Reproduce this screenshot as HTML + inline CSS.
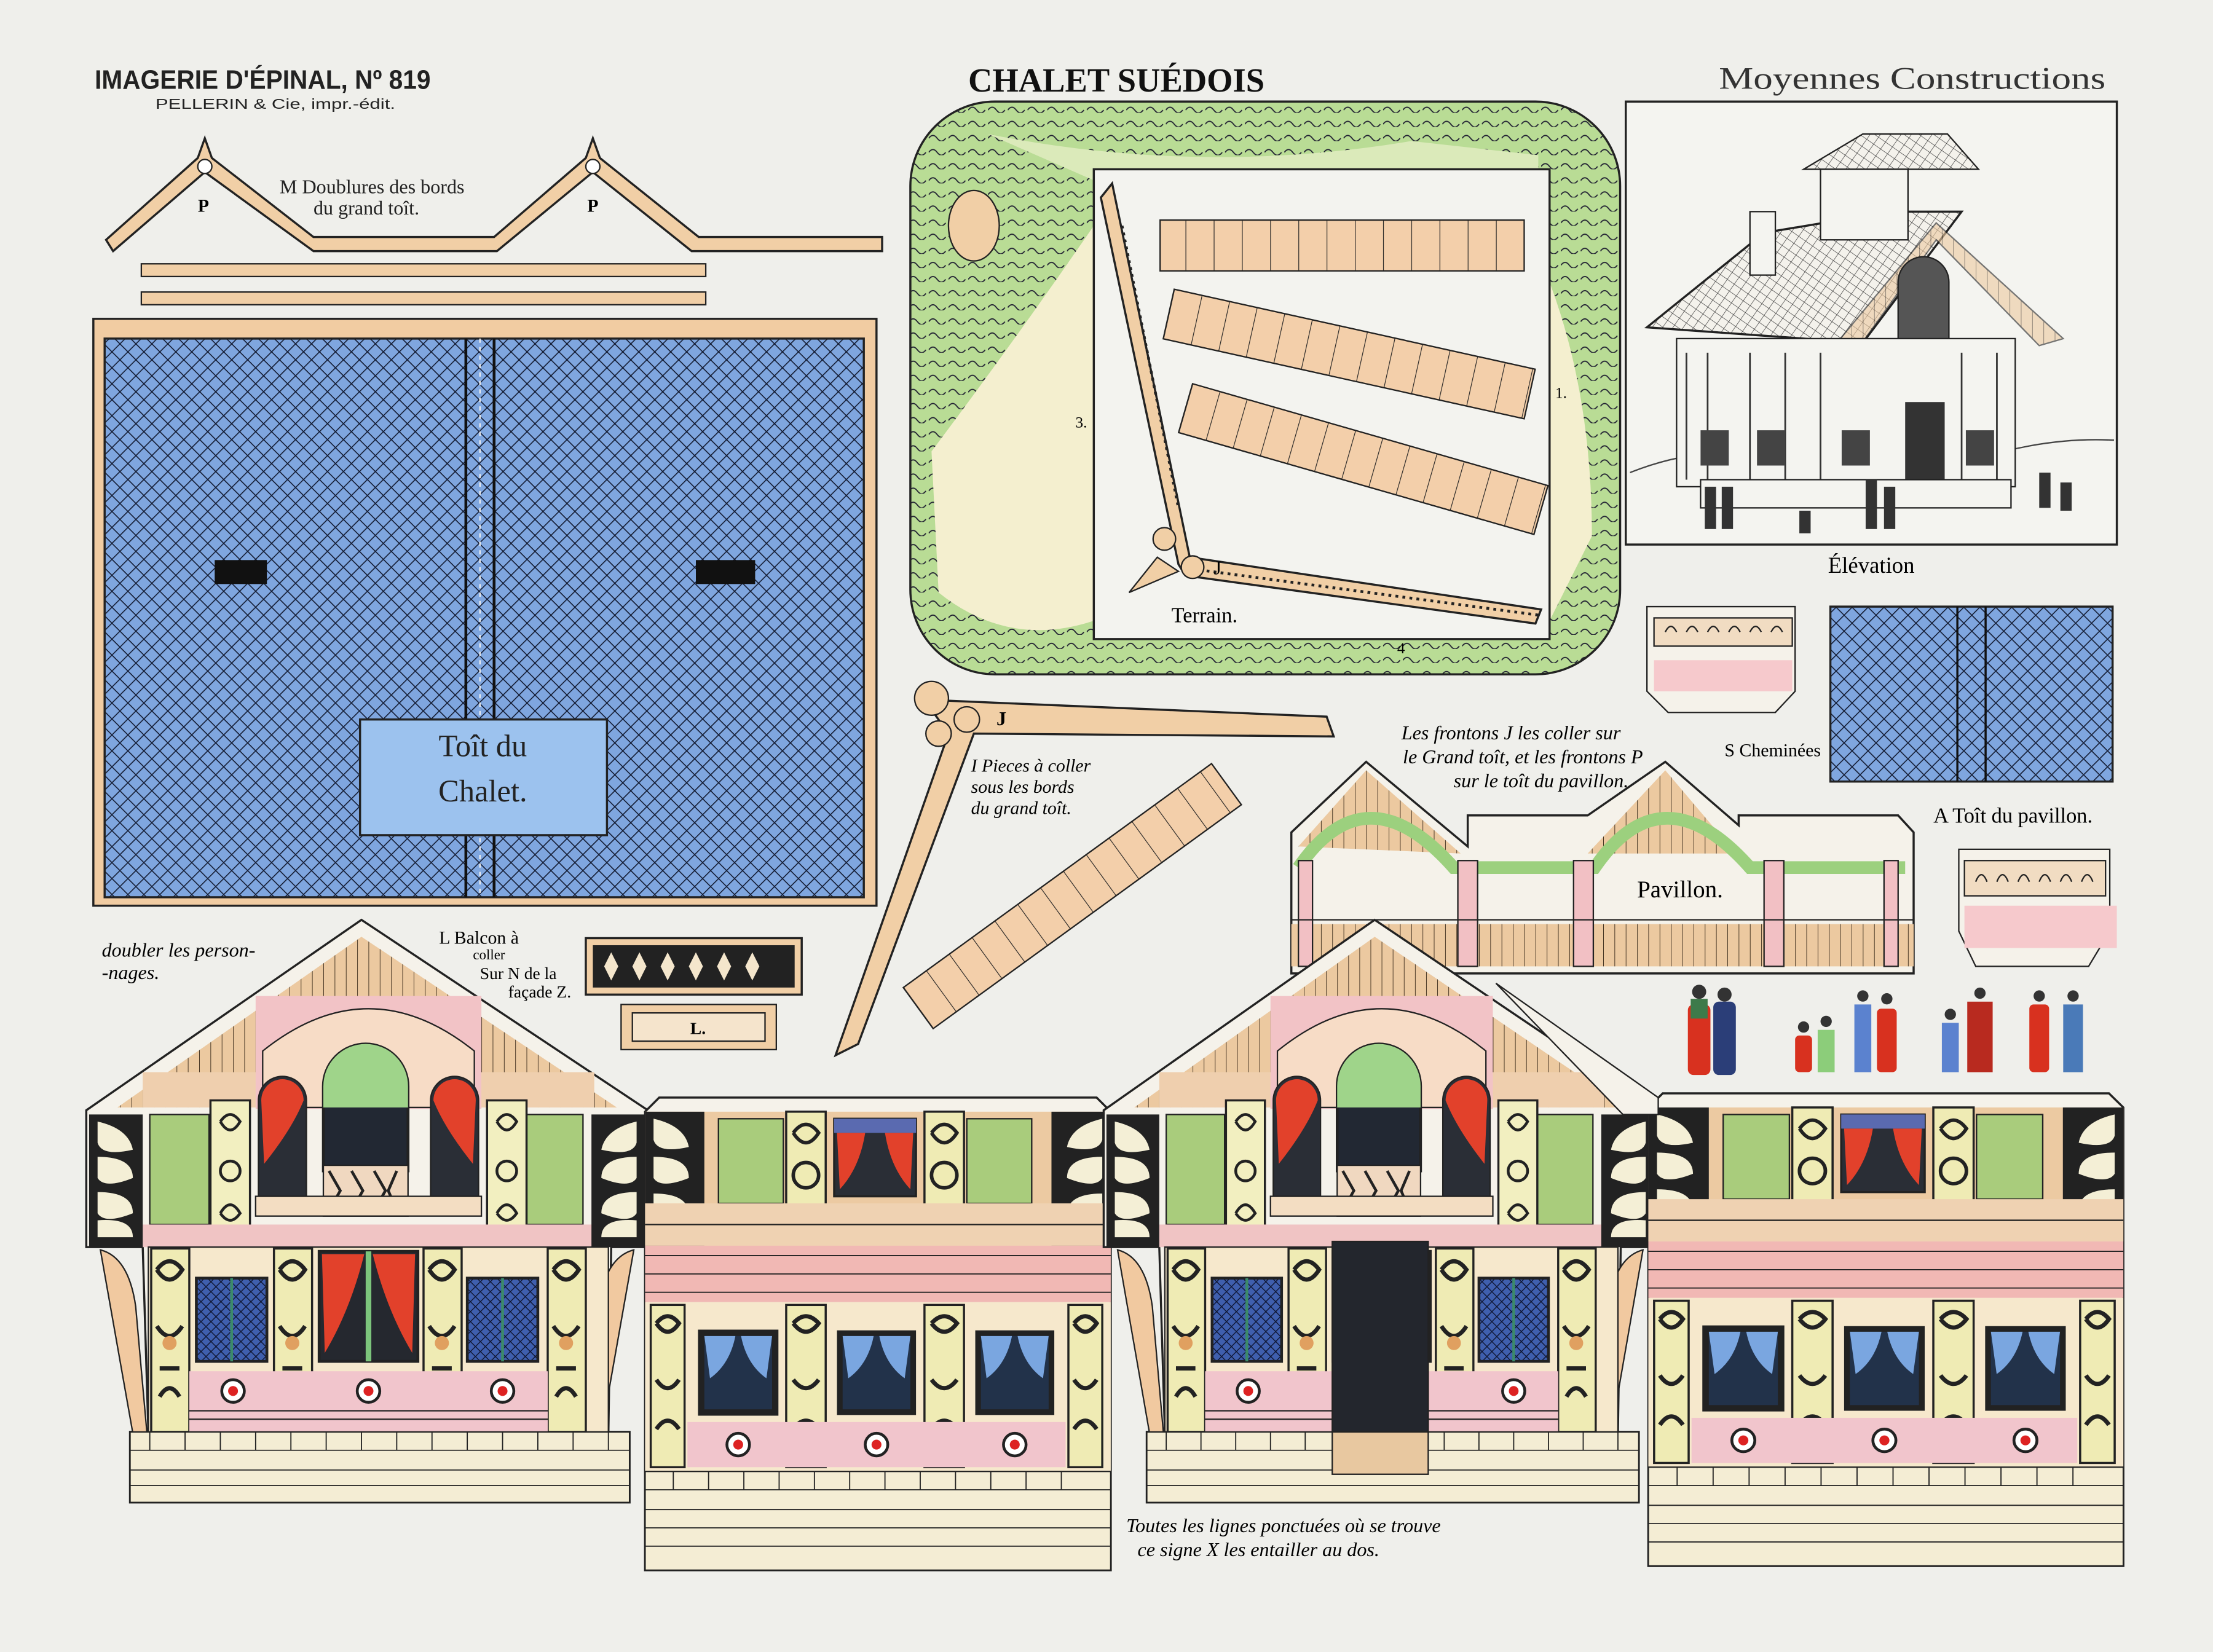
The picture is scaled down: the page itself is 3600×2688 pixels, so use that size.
<!DOCTYPE html>
<html><head><meta charset="utf-8"><style>
html,body{margin:0;padding:0;background:#efefeb;}
svg{display:block;}
</style></head><body>
<svg width="3600" height="2688" viewBox="0 0 1568 1171" xmlns="http://www.w3.org/2000/svg">
<defs>
<pattern id="hatch" width="8" height="8" patternUnits="userSpaceOnUse" patternTransform="rotate(45)">
<rect width="8" height="8" fill="#7fa6df"/>
<line x1="0" y1="0" x2="0" y2="8" stroke="#141c33" stroke-width="1.4"/>
<line x1="0" y1="0" x2="8" y2="0" stroke="#141c33" stroke-width="1.4"/>
</pattern>
<pattern id="vstripe" width="20" height="40" patternUnits="userSpaceOnUse">
<rect width="20" height="40" fill="#f3cfaa"/>
<line x1="0" y1="0" x2="0" y2="40" stroke="#222" stroke-width="1"/>
</pattern>
<pattern id="wood" width="8" height="20" patternUnits="userSpaceOnUse">
<rect width="8" height="20" fill="#ecc9a0"/>
<line x1="0" y1="0" x2="0" y2="20" stroke="#3a2a1a" stroke-width="0.8"/>
</pattern>
<pattern id="roofel" width="6" height="6" patternUnits="userSpaceOnUse" patternTransform="rotate(35)">
<rect width="6" height="6" fill="#f4f2ec"/>
<line x1="0" y1="0" x2="0" y2="6" stroke="#333" stroke-width="0.6"/>
<line x1="0" y1="0" x2="6" y2="0" stroke="#333" stroke-width="0.6"/>
</pattern>
<pattern id="grass" width="14" height="10" patternUnits="userSpaceOnUse">
<rect width="14" height="10" fill="#b9dc95"/>
<path d="M0 8 q3-4 6 0 t6 0" stroke="#223" fill="none" stroke-width="0.8"/>
</pattern>
<pattern id="blwin" width="5" height="5" patternUnits="userSpaceOnUse" patternTransform="rotate(45)">
<rect width="5" height="5" fill="#3f5fae"/>
<line x1="0" y1="0" x2="0" y2="5" stroke="#0e1430" stroke-width="1.2"/>
<line x1="0" y1="0" x2="5" y2="0" stroke="#0e1430" stroke-width="1.2"/>
</pattern>

<g id="gable">
<polygon points="0,137 195,2 398,137 398,234 372,234 370,365 385,365 385,415 31,415 31,365 44,365 40,234 0,234" fill="#f5f2ea" stroke="#222" stroke-width="1.5"/>
<polygon points="22,135 195,14 376,135" fill="url(#wood)"/>
<rect x="40" y="110" width="320" height="25" fill="#efcfae"/>
<rect x="120" y="56" width="160" height="80" fill="#f2c3c6"/>
<path d="M125 135 v-40 q75-60 150 0 v40z" fill="#f7dcc6" stroke="#222"/>
<path d="M168 180 v-60 a30 30 0 0 1 60 0 v60z" fill="#222833" stroke="#222" stroke-width="2"/>
<path d="M168 120 a30 30 0 0 1 60 0 v15 h-60z" fill="#9fd48a"/>
<rect x="168" y="176" width="60" height="36" fill="#f0d8c0" stroke="#222"/>
<path d="M172 180 l8 14 -8 14 M188 180 l8 14 -8 14 M204 180 l8 14 -8 14 M220 180 l-6 14 6 14" stroke="#222" fill="none" stroke-width="2"/>
<path d="M122 200 v-70 a17 17 0 0 1 34 0 v70z" fill="#2a2e36" stroke="#222"/>
<path d="M124 130 a15 15 0 0 1 30 0 q-8 20 -28 45z" fill="#e2412b"/>
<path d="M244 200 v-70 a17 17 0 0 1 34 0 v70z" fill="#2a2e36" stroke="#222"/>
<path d="M276 130 a15 15 0 0 0 -30 0 q8 20 28 45z" fill="#e2412b"/>
<rect x="120" y="198" width="160" height="14" fill="#f3ddc2" stroke="#222"/>
<rect x="45" y="140" width="42" height="78" fill="#a9cc7c" stroke="#222"/>
<rect x="310" y="140" width="42" height="78" fill="#a9cc7c" stroke="#222"/>
<rect x="88" y="130" width="28" height="105" fill="#f2efc0" stroke="#222" stroke-width="1.5"/>
<rect x="284" y="130" width="28" height="105" fill="#f2efc0" stroke="#222" stroke-width="1.5"/>
<path d="M95 145 q7-10 14 0 q-7 12 -14 0 M95 180 a7 7 0 1 0 14 0 a7 7 0 1 0 -14 0 M95 210 q7-12 14 0 q-7 10 -14 0 M291 145 q7-10 14 0 q-7 12 -14 0 M291 180 a7 7 0 1 0 14 0 a7 7 0 1 0 -14 0 M291 210 q7-12 14 0 q-7 10 -14 0" stroke="#222" fill="none" stroke-width="2"/>
<rect x="40" y="218" width="320" height="16" fill="#f0c4c4"/>
<path d="M2 140 h38 v94 h-38z M358 140 h38 v94 h-38z" fill="#222"/>
<path d="M8 145 q22 5 25 20 q-22 5 -25 -5z M8 170 q25 0 25 15 q-20 8 -25 0z M8 195 q25 0 25 15 q-20 8 -25 0z M8 215 q25 -2 25 12 h-25z M390 145 q-22 5 -25 20 q22 5 25 -5z M390 170 q-25 0 -25 15 q20 8 25 0z M390 195 q-25 0 -25 15 q20 8 25 0z M390 215 q-25 -2 -25 12 h25z" fill="#f4efd6"/>
<path d="M10 236 q20 5 25 40 l8 90 h-10z M388 236 q-20 5 -25 40 l-8 90 h10z" fill="#f1c9a0" stroke="#222"/>
<rect x="44" y="234" width="326" height="131" fill="#f6e8cc" stroke="#222"/>
<rect x="46" y="235" width="27" height="130" fill="#efebb4" stroke="#222" stroke-width="1.5"/>
<rect x="133" y="235" width="27" height="130" fill="#efebb4" stroke="#222" stroke-width="1.5"/>
<rect x="239" y="235" width="27" height="130" fill="#efebb4" stroke="#222" stroke-width="1.5"/>
<rect x="327" y="235" width="27" height="130" fill="#efebb4" stroke="#222" stroke-width="1.5"/>
<path d="M50 250 q9-12 18 0 q-9 14-18 0 M50 290 q9 14 18 0 M52 320 h14 M52 340 q7-12 14 0 M137 250 q9-12 18 0 q-9 14-18 0 M137 290 q9 14 18 0 M139 320 h14 M139 340 q7-12 14 0 M243 250 q9-12 18 0 q-9 14-18 0 M243 290 q9 14 18 0 M245 320 h14 M245 340 q7-12 14 0 M331 250 q9-12 18 0 q-9 14-18 0 M331 290 q9 14 18 0 M333 320 h14 M333 340 q7-12 14 0" stroke="#222" fill="none" stroke-width="3"/>
<circle cx="59" cy="302" r="5" fill="#e0a060"/><circle cx="146" cy="302" r="5" fill="#e0a060"/><circle cx="252" cy="302" r="5" fill="#e0a060"/><circle cx="340" cy="302" r="5" fill="#e0a060"/>
<rect x="78" y="256" width="50" height="59" fill="url(#blwin)" stroke="#222" stroke-width="2"/>
<rect x="270" y="256" width="50" height="59" fill="url(#blwin)" stroke="#222" stroke-width="2"/>
<line x1="103" y1="256" x2="103" y2="315" stroke="#3c8a6a" stroke-width="2"/><line x1="295" y1="256" x2="295" y2="315" stroke="#3c8a6a" stroke-width="2"/>
<rect x="165" y="237" width="70" height="78" fill="#25282f" stroke="#222" stroke-width="2"/>
<line x1="200" y1="237" x2="200" y2="315" stroke="#7cc47c" stroke-width="4"/>
<path d="M167 239 h30 q-10 40 -28 70z M233 239 h-30 q10 40 28 70z" fill="#e2412b"/>
<rect x="73" y="322" width="254" height="43" fill="#f1c5cc"/>
<line x1="73" y1="350" x2="327" y2="350" stroke="#222"/><line x1="73" y1="356" x2="327" y2="356" stroke="#222"/>
<circle cx="104" cy="336" r="8" fill="#fff" stroke="#222" stroke-width="2"/><circle cx="104" cy="336" r="3.5" fill="#d22"/>
<circle cx="200" cy="336" r="8" fill="#fff" stroke="#222" stroke-width="2"/><circle cx="200" cy="336" r="3.5" fill="#d22"/>
<circle cx="295" cy="336" r="8" fill="#fff" stroke="#222" stroke-width="2"/><circle cx="295" cy="336" r="3.5" fill="#d22"/>
<rect x="31" y="365" width="354" height="50" fill="#f4edd4" stroke="#222"/>
<path d="M31 378 h354 M31 392 h354 M31 403 h354" stroke="#222" stroke-width="0.8"/>
<path d="M45 365 v13 M70 365 v13 M95 365 v13 M120 365 v13 M145 365 v13 M170 365 v13 M195 365 v13 M220 365 v13 M245 365 v13 M270 365 v13 M295 365 v13 M320 365 v13 M345 365 v13 M370 365 v13" stroke="#222" stroke-width="0.8"/>
</g>

<g id="side">
<polygon points="0,10 10,0 320,0 330,10 330,335 0,335" fill="#f5f2ea" stroke="#222" stroke-width="1.5"/>
<rect x="0" y="10" width="330" height="95" fill="#eccaa2"/>
<path d="M0 10 h42 v95 h-42z M288 10 h42 v95 h-42z" fill="#222"/>
<path d="M6 15 q22 5 25 20 q-22 5 -25 -5z M6 42 q25 0 25 15 q-20 8 -25 0z M6 68 q25 0 25 15 q-20 8 -25 0z M324 15 q-22 5 -25 20 q22 5 25 -5z M324 42 q-25 0 -25 15 q20 8 25 0z M324 68 q-25 0 -25 15 q20 8 25 0z" fill="#f4efd6"/>
<rect x="52" y="15" width="46" height="60" fill="#a9cc7c" stroke="#222"/>
<rect x="228" y="15" width="46" height="60" fill="#a9cc7c" stroke="#222"/>
<rect x="100" y="10" width="28" height="80" fill="#efebb4" stroke="#222" stroke-width="1.5"/>
<rect x="198" y="10" width="28" height="80" fill="#efebb4" stroke="#222" stroke-width="1.5"/>
<path d="M105 25 q9-12 18 0 q-9 14-18 0 M105 55 a9 9 0 1 0 18 0 a9 9 0 1 0 -18 0 M203 25 q9-12 18 0 q-9 14-18 0 M203 55 a9 9 0 1 0 18 0 a9 9 0 1 0 -18 0" stroke="#222" fill="none" stroke-width="2.5"/>
<rect x="134" y="15" width="58" height="55" fill="#2a2e36" stroke="#222" stroke-width="1.5"/>
<rect x="134" y="15" width="58" height="10" fill="#5a6ab0"/>
<path d="M136 25 h20 q-4 25 -18 40z M190 25 h-20 q4 25 18 40z" fill="#e2412b"/>
<rect x="0" y="75" width="330" height="30" fill="#efd2b2"/>
<line x1="0" y1="90" x2="330" y2="90" stroke="#222"/>
<rect x="0" y="105" width="330" height="40" fill="#f1b8b4"/>
<path d="M0 112 h330 M0 125 h330 M0 138 h330" stroke="#222" stroke-width="0.8"/>
<rect x="0" y="145" width="330" height="120" fill="#f6e8cc"/>
<rect x="4" y="147" width="24" height="115" fill="#efebb4" stroke="#222" stroke-width="1.5"/>
<rect x="100" y="147" width="28" height="115" fill="#efebb4" stroke="#222" stroke-width="1.5"/>
<rect x="198" y="147" width="28" height="115" fill="#efebb4" stroke="#222" stroke-width="1.5"/>
<rect x="300" y="147" width="24" height="115" fill="#efebb4" stroke="#222" stroke-width="1.5"/>
<path d="M8 160 q8-10 16 0 q-8 12 -16 0 M8 200 q8 12 16 0 M8 235 q8-12 16 0 M105 160 q9-10 18 0 q-9 12 -18 0 M105 200 q9 12 18 0 M105 235 q9-12 18 0 M203 160 q9-10 18 0 q-9 12 -18 0 M203 200 q9 12 18 0 M203 235 q9-12 18 0 M304 160 q8-10 16 0 q-8 12 -16 0 M304 200 q8 12 16 0 M304 235 q8-12 16 0" stroke="#222" fill="none" stroke-width="3"/>
<rect x="38" y="165" width="56" height="60" fill="#222" stroke="#222"/>
<rect x="42" y="169" width="48" height="52" fill="#22324a"/>
<path d="M42 169 h22 q-4 20 -18 30 z M90 169 h-22 q4 20 18 30z" fill="#7aa6e0"/>
<rect x="136" y="165" width="56" height="60" fill="#222"/>
<rect x="140" y="169" width="48" height="52" fill="#22324a"/>
<path d="M140 169 h22 q-4 20 -18 30 z M188 169 h-22 q4 20 18 30z" fill="#7aa6e0"/>
<rect x="234" y="165" width="56" height="60" fill="#222"/>
<rect x="238" y="169" width="48" height="52" fill="#22324a"/>
<path d="M238 169 h22 q-4 20 -18 30 z M286 169 h-22 q4 20 18 30z" fill="#7aa6e0"/>
<rect x="30" y="230" width="268" height="32" fill="#f1c5cc"/>
<circle cx="66" cy="246" r="8" fill="#fff" stroke="#222" stroke-width="2"/><circle cx="66" cy="246" r="3.5" fill="#d22"/>
<circle cx="164" cy="246" r="8" fill="#fff" stroke="#222" stroke-width="2"/><circle cx="164" cy="246" r="3.5" fill="#d22"/>
<circle cx="262" cy="246" r="8" fill="#fff" stroke="#222" stroke-width="2"/><circle cx="262" cy="246" r="3.5" fill="#d22"/>
<rect x="0" y="265" width="330" height="70" fill="#f4edd4" stroke="#222"/>
<path d="M0 278 h330 M0 292 h330 M0 305 h330 M0 318 h330" stroke="#222" stroke-width="0.8"/>
<path d="M20 265 v13 M45 265 v13 M70 265 v13 M95 265 v13 M120 265 v13 M145 265 v13 M170 265 v13 M195 265 v13 M220 265 v13 M245 265 v13 M270 265 v13 M295 265 v13" stroke="#222" stroke-width="0.8"/>
</g>
</defs>

<rect width="1568" height="1171" fill="#efefeb"/>

<text x="67" y="63" font-family="Liberation Sans, sans-serif" font-size="19" font-weight="bold" fill="#222" textLength="238" lengthAdjust="spacingAndGlyphs">IMAGERIE D'ÉPINAL, Nº 819</text>
<text x="110" y="77" font-family="Liberation Sans, sans-serif" font-size="10" fill="#222" textLength="170" lengthAdjust="spacingAndGlyphs">PELLERIN &amp; Cie, impr.-édit.</text>
<text x="686" y="65" font-family="Liberation Serif, serif" font-size="24" font-weight="bold" fill="#111" textLength="210" lengthAdjust="spacingAndGlyphs">CHALET SUÉDOIS</text>
<text x="1218" y="63" font-family="Liberation Serif, serif" font-size="22" fill="#333" textLength="274" lengthAdjust="spacingAndGlyphs">Moyennes Constructions</text>

<g fill="#f1cfa6" stroke="#222" stroke-width="1.5">
<polygon points="75,170 140,112 145,98 150,112 222,168 350,168 415,112 420,98 425,112 495,168 625,168 625,178 490,178 420,122 352,178 222,178 145,122 80,178"/>
</g>
<circle cx="145" cy="118" r="5" fill="#fff" stroke="#222"/><circle cx="420" cy="118" r="5" fill="#fff" stroke="#222"/>
<text x="140" y="150" font-family="Liberation Serif, serif" font-size="13" font-weight="bold">P</text>
<text x="416" y="150" font-family="Liberation Serif, serif" font-size="13" font-weight="bold">P</text>
<text x="198" y="137" font-family="Liberation Serif, serif" font-size="14" fill="#222">M Doublures des bords</text>
<text x="222" y="152" font-family="Liberation Serif, serif" font-size="14" fill="#222">du grand toît.</text>
<rect x="100" y="187" width="400" height="9" fill="#f1cfa6" stroke="#222"/>
<rect x="100" y="207" width="400" height="9" fill="#f1cfa6" stroke="#222"/>

<rect x="66" y="226" width="555" height="416" fill="#f1cca2" stroke="#222" stroke-width="1.5"/>
<rect x="74" y="240" width="538" height="396" fill="url(#hatch)" stroke="#222" stroke-width="1.5"/>
<line x1="330" y1="240" x2="330" y2="636" stroke="#111" stroke-width="2"/>
<line x1="350" y1="240" x2="350" y2="636" stroke="#111" stroke-width="2"/>
<line x1="340" y1="240" x2="340" y2="636" stroke="#eee" stroke-width="1" stroke-dasharray="3 3"/>
<rect x="152" y="397" width="37" height="17" fill="#111"/>
<rect x="493" y="397" width="42" height="17" fill="#111"/>
<rect x="255" y="510" width="175" height="82" fill="#9cc2ee" stroke="#222" stroke-width="1.5"/>
<text x="342" y="536" text-anchor="middle" font-family="Liberation Serif, serif" font-size="22" fill="#222">Toît du</text>
<text x="342" y="568" text-anchor="middle" font-family="Liberation Serif, serif" font-size="22" fill="#222">Chalet.</text>

<rect x="645" y="72" width="503" height="406" rx="60" fill="url(#grass)" stroke="#222" stroke-width="1.5"/>
<path d="M660 320 q60 -80 115 -160 v280 q-60 20 -110 -20z" fill="#f4efcf"/>
<path d="M700 95 q150 30 300 5 l90 10 v20 h-310z" fill="#dbeaba"/>
<path d="M1098 200 q30 80 30 180 l-30 60z" fill="#f4efcf"/>
<ellipse cx="690" cy="160" rx="18" ry="25" fill="#f1cfa6" stroke="#222"/>
<rect x="775" y="120" width="323" height="333" fill="#f3f3ef" stroke="#222" stroke-width="1.5"/>
<rect x="822" y="156" width="258" height="36" fill="url(#vstripe)" stroke="#222"/>
<g transform="translate(832,205) rotate(12.5)"><rect width="262" height="36" fill="url(#vstripe)" stroke="#222"/></g>
<g transform="translate(845,272) rotate(16)"><rect width="262" height="36" fill="url(#vstripe)" stroke="#222"/></g>
<polygon points="780,140 788,130 843,395 1092,432 1088,442 840,408 835,400" fill="#f1cfa6" stroke="#222" stroke-width="1.5"/>
<path d="M795 160 l4 20 4 20 4 20 4 20 4 20 4 20 4 20 4 20 4 20 4 20 M850 404 l240 32" stroke="#222" stroke-dasharray="2 3" stroke-width="2"/>
<circle cx="825" cy="382" r="8" fill="#f1cfa6" stroke="#222"/><circle cx="845" cy="402" r="8" fill="#f1cfa6" stroke="#222"/>
<path d="M800 420 l20 -25 15 10z" fill="#f1cfa6" stroke="#222"/>
<text x="860" y="407" font-family="Liberation Serif, serif" font-size="14">J</text>
<text x="830" y="441" font-family="Liberation Serif, serif" font-size="15">Terrain.</text>
<text x="762" y="303" font-family="Liberation Serif, serif" font-size="11">3.</text>
<text x="1102" y="282" font-family="Liberation Serif, serif" font-size="11">1.</text>
<text x="990" y="463" font-family="Liberation Serif, serif" font-size="11">4</text>

<polygon points="655,496 940,508 945,522 690,520 608,740 592,748 672,520" fill="#f1cfa6" stroke="#222" stroke-width="1.5"/>
<circle cx="660" cy="495" r="12" fill="#f1cfa6" stroke="#222"/><circle cx="665" cy="520" r="9" fill="#f1cfa6" stroke="#222"/><circle cx="685" cy="510" r="9" fill="#f1cfa6" stroke="#222"/>
<text x="706" y="514" font-family="Liberation Serif, serif" font-size="14" font-weight="bold">J</text>
<text x="688" y="547" font-family="Liberation Serif, serif" font-style="italic" font-size="13">I Pieces à coller</text>
<text x="688" y="562" font-family="Liberation Serif, serif" font-style="italic" font-size="13">sous les bords</text>
<text x="688" y="577" font-family="Liberation Serif, serif" font-style="italic" font-size="13">du grand toît.</text>
<g transform="translate(640,700) rotate(-36)"><rect width="270" height="36" fill="url(#vstripe)" stroke="#222"/></g>

<rect x="1152" y="72" width="348" height="314" fill="#f4f4f0" stroke="#222" stroke-width="1.5"/>
<path d="M1155 335 q50 -20 100 -12 M1420 320 q40 -10 78 -8" stroke="#444" fill="none"/>
<polygon points="1167,232 1250,165 1340,150 1390,150 1320,243" fill="url(#roofel)" stroke="#222" stroke-width="1.5"/>
<polygon points="1278,120 1320,95 1380,95 1402,120" fill="url(#roofel)" stroke="#222"/>
<rect x="1290" y="120" width="62" height="50" fill="#f4f4f0" stroke="#222"/>
<rect x="1240" y="150" width="18" height="45" fill="#f4f4f0" stroke="#222"/>
<polygon points="1300,245 1372,158 1462,240 1445,245 1372,170 1318,245" fill="url(#wood)" opacity="0.6" stroke="#222"/>
<rect x="1188" y="240" width="240" height="105" fill="#f4f4f0" stroke="#222"/>
<path d="M1195 250 v90 M1210 250 v90 M1240 250 v90 M1265 250 v90 M1290 250 v90 M1390 250 v90 M1415 250 v90" stroke="#333" stroke-width="1.2"/>
<rect x="1350" y="285" width="28" height="70" fill="#333"/>
<path d="M1345 200 a18 18 0 0 1 36 0 v40 h-36z" fill="#555" stroke="#222"/>
<rect x="1205" y="305" width="20" height="25" fill="#444"/><rect x="1245" y="305" width="20" height="25" fill="#444"/><rect x="1305" y="305" width="20" height="25" fill="#444"/><rect x="1393" y="305" width="20" height="25" fill="#444"/>
<rect x="1205" y="340" width="220" height="20" fill="#f4f4f0" stroke="#222"/>
<g fill="#333"><rect x="1208" y="345" width="8" height="30"/><rect x="1220" y="345" width="8" height="30"/><rect x="1275" y="362" width="8" height="16"/><rect x="1322" y="340" width="8" height="35"/><rect x="1335" y="345" width="8" height="30"/><rect x="1445" y="335" width="8" height="25"/><rect x="1460" y="342" width="8" height="20"/></g>
<text x="1326" y="406" text-anchor="middle" font-family="Liberation Serif, serif" font-size="16">Élévation</text>

<g stroke="#222" fill="#f5f2ea">
<polygon points="1167,430 1272,430 1272,490 1258,505 1182,505 1167,490"/>
<rect x="1172" y="438" width="98" height="20" fill="#f1dcc2"/>
<rect x="1172" y="468" width="98" height="22" fill="#f6c9cc" stroke="none"/>
<polygon points="1388,602 1495,602 1495,660 1480,685 1400,685 1388,660"/>
<rect x="1392" y="610" width="100" height="25" fill="#f1dcc2"/>
<rect x="1392" y="642" width="108" height="30" fill="#f6c9cc" stroke="none"/>
</g>
<path d="M1180 448 q4-8 8 0 M1195 448 q4-8 8 0 M1210 448 q4-8 8 0 M1225 448 q4-8 8 0 M1240 448 q4-8 8 0 M1255 448 q4-8 8 0 M1400 625 q4-10 8 0 M1415 625 q4-10 8 0 M1430 625 q4-10 8 0 M1445 625 q4-10 8 0 M1460 625 q4-10 8 0 M1475 625 q4-10 8 0" stroke="#222" fill="none"/>
<text x="1222" y="536" font-family="Liberation Serif, serif" font-size="13">S Cheminées</text>

<rect x="1297" y="430" width="200" height="124" fill="url(#hatch)" stroke="#222" stroke-width="1.5"/>
<line x1="1387" y1="430" x2="1387" y2="554" stroke="#111" stroke-width="1.5"/><line x1="1407" y1="430" x2="1407" y2="554" stroke="#111" stroke-width="1.5"/>
<text x="1370" y="583" font-family="Liberation Serif, serif" font-size="15">A Toît du pavillon.</text>

<text x="993" y="524" font-family="Liberation Serif, serif" font-style="italic" font-size="14">Les frontons J les coller sur</text>
<text x="994" y="541" font-family="Liberation Serif, serif" font-style="italic" font-size="14">le Grand toît, et les frontons P</text>
<text x="1030" y="558" font-family="Liberation Serif, serif" font-style="italic" font-size="14">sur le toît du pavillon.</text>
<polygon points="915,590 968,540 1040,600 1040,578 1125,578 1180,540 1232,585 1232,578 1345,578 1356,590 1356,690 915,690" fill="#f5f2ea" stroke="#222" stroke-width="1.5"/>
<polygon points="920,600 968,546 1035,605" fill="url(#wood)"/>
<polygon points="1125,605 1180,546 1230,605" fill="url(#wood)"/>
<path d="M920 615 q48 -70 110 0 h100 q48 -70 110 0 h110" stroke="#9cd07e" stroke-width="9" fill="none"/>
<rect x="915" y="655" width="441" height="30" fill="url(#wood)"/>
<g fill="#f2c0c4" stroke="#222"><rect x="920" y="610" width="10" height="75"/><rect x="1033" y="610" width="14" height="75"/><rect x="1115" y="610" width="14" height="75"/><rect x="1250" y="610" width="14" height="75"/><rect x="1335" y="610" width="10" height="75"/></g>
<line x1="915" y1="652" x2="1356" y2="652" stroke="#222"/>
<text x="1160" y="636" font-family="Liberation Serif, serif" font-size="17">Pavillon.</text>

<rect x="415" y="665" width="153" height="40" fill="#f1cfa6" stroke="#222" stroke-width="1.5"/>
<rect x="420" y="670" width="143" height="30" fill="#222"/>
<path d="M428 685 l5 -10 5 10 -5 10z M448 685 l5 -10 5 10 -5 10z M468 685 l5 -10 5 10 -5 10z M488 685 l5 -10 5 10 -5 10z M508 685 l5 -10 5 10 -5 10z M528 685 l5 -10 5 10 -5 10z" fill="#f4e6cc"/>
<rect x="440" y="712" width="110" height="32" fill="#f1cfa6" stroke="#222"/>
<rect x="448" y="718" width="94" height="20" fill="#f5e4cc" stroke="#222"/>
<text x="489" y="733" font-family="Liberation Serif, serif" font-size="12" font-weight="bold">L.</text>
<text x="311" y="669" font-family="Liberation Serif, serif" font-size="13">L Balcon à</text>
<text x="335" y="680" font-family="Liberation Serif, serif" font-size="10">coller</text>
<text x="340" y="694" font-family="Liberation Serif, serif" font-size="12">Sur N de la</text>
<text x="360" y="707" font-family="Liberation Serif, serif" font-size="12">façade Z.</text>
<text x="72" y="678" font-family="Liberation Serif, serif" font-style="italic" font-size="14">doubler les person-</text>
<text x="72" y="694" font-family="Liberation Serif, serif" font-style="italic" font-size="14">-nages.</text>

<use href="#gable" transform="translate(61,650)"/>
<use href="#side" transform="translate(457,778)"/>
<use href="#gable" transform="translate(782,650) scale(0.985,1)"/>
<rect x="944" y="880" width="68" height="135" fill="#23262d" stroke="#222"/>
<rect x="944" y="1015" width="68" height="30" fill="#e8c8a0" stroke="#222"/>
<use href="#side" transform="translate(1168,775) scale(1.02,1)"/>
<polygon points="1060,697 1175,778 1175,790 1150,790" fill="#f5f2ea" stroke="#222"/>

<g>
<rect x="1196" y="712" width="16" height="50" rx="4" fill="#d8311f"/><rect x="1198" y="708" width="12" height="14" fill="#3d7a4a"/>
<rect x="1214" y="710" width="16" height="52" rx="4" fill="#2b3e78"/><circle cx="1222" cy="705" r="5" fill="#333"/><circle cx="1204" cy="703" r="5" fill="#333"/>
<rect x="1272" y="734" width="12" height="26" rx="3" fill="#d8311f"/><rect x="1288" y="730" width="12" height="30" fill="#8ccd7a"/>
<rect x="1314" y="712" width="12" height="48" fill="#5b82cf"/><rect x="1330" y="715" width="14" height="45" rx="3" fill="#d8311f"/>
<rect x="1376" y="725" width="12" height="35" fill="#5b82cf"/><rect x="1394" y="710" width="18" height="50" fill="#b82a1f"/>
<rect x="1438" y="712" width="14" height="48" rx="3" fill="#d8311f"/><rect x="1462" y="712" width="14" height="48" fill="#4a7ab8"/>
<g fill="#333"><circle cx="1278" cy="728" r="4"/><circle cx="1294" cy="724" r="4"/><circle cx="1320" cy="706" r="4"/><circle cx="1337" cy="708" r="4"/><circle cx="1382" cy="719" r="4"/><circle cx="1403" cy="704" r="4"/><circle cx="1445" cy="706" r="4"/><circle cx="1469" cy="706" r="4"/></g>
</g>

<text x="798" y="1086" font-family="Liberation Serif, serif" font-style="italic" font-size="14">Toutes les lignes ponctuées où se trouve</text>
<text x="806" y="1103" font-family="Liberation Serif, serif" font-style="italic" font-size="14">ce signe X les entailler au dos.</text>
</svg>
</body></html>
